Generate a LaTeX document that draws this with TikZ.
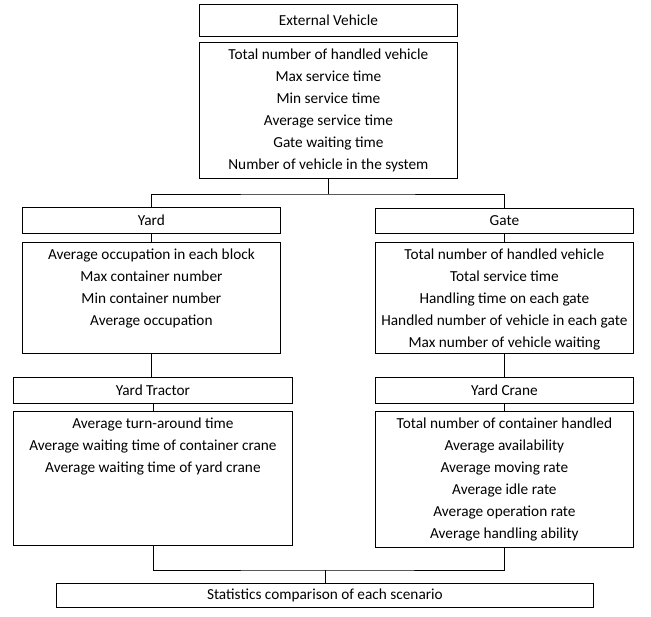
\documentclass[tikz,border=0pt]{standalone}
\usepackage{fontspec}
\setmainfont{Carlito}
\newcommand\lbox[3]{\parbox[t][#2][t]{#1}{\centering\fontsize{15.3}{22}\selectfont\vspace*{1.5pt}\strut #3}}
\begin{document}
\begin{tikzpicture}[x=1pt,y=-1pt,line width=0.8pt,
  tb/.style={draw, inner sep=0pt, anchor=north west, font=\fontsize{15.3}{18}\selectfont},
  lb/.style={draw, inner sep=0pt, anchor=north west}]
\useasboundingbox (0,0) rectangle (651,617);
\node[tb, minimum width=258pt, minimum height=32pt] (ev) at (199,4) {External Vehicle};
\node[lb] (evl) at (199,42) {\lbox{258pt}{136pt}{Total number of handled vehicle\\Max service time\\Min service time\\Average service time\\Gate waiting time\\Number of vehicle in the system}};
\node[tb, minimum width=258pt, minimum height=26pt] (yard) at (22,207) {Yard};
\node[lb] (yardl) at (22,242) {\lbox{258pt}{111pt}{Average occupation in each block\\Max container number\\Min container number\\Average occupation}};
\node[tb, minimum width=258pt, minimum height=25pt] (gate) at (375,208) {Gate};
\node[lb] (gatel) at (375,242) {\lbox{258pt}{111pt}{Total number of handled vehicle\\Total service time\\Handling time on each gate\\Handled number of vehicle in each gate\\Max number of vehicle waiting}};
\node[tb, minimum width=279pt, minimum height=26pt] (yt) at (13,377) {Yard Tractor};
\node[lb] (ytl) at (13,411) {\lbox{279pt}{134pt}{Average turn-around time\\Average waiting time of container crane\\Average waiting time of yard crane}};
\node[tb, minimum width=258pt, minimum height=26pt] (yc) at (375,377) {Yard Crane};
\node[lb] (ycl) at (375,411) {\lbox{258pt}{136pt}{Total number of container handled\\Average availability\\Average moving rate\\Average idle rate\\Average operation rate\\Average handling ability}};
\node[tb, minimum width=537pt, minimum height=24pt] (st) at (56,583) {Statistics comparison of each scenario};
\coordinate (j1) at (328,194);
\coordinate (j2) at (326,570);
\draw (evl.south) -- (evl.south |- j1);
\draw (yard.north) |- (j1) -| (gate.north);
\draw (yard.south) -- (yardl.north);
\draw (gate.south) -- (gatel.north);
\draw (yardl.south) -- (yardl.south |- yt.north);
\draw (gatel.south) -- (gatel.south |- yc.north);
\draw (yt.south) -- (yt.south |- ytl.north);
\draw (yc.south) -- (yc.south |- ycl.north);
\draw (ytl.south) |- (j2) -| (ycl.south);
\draw (st.north) -- (st.north |- j2);
\end{tikzpicture}
\end{document}
